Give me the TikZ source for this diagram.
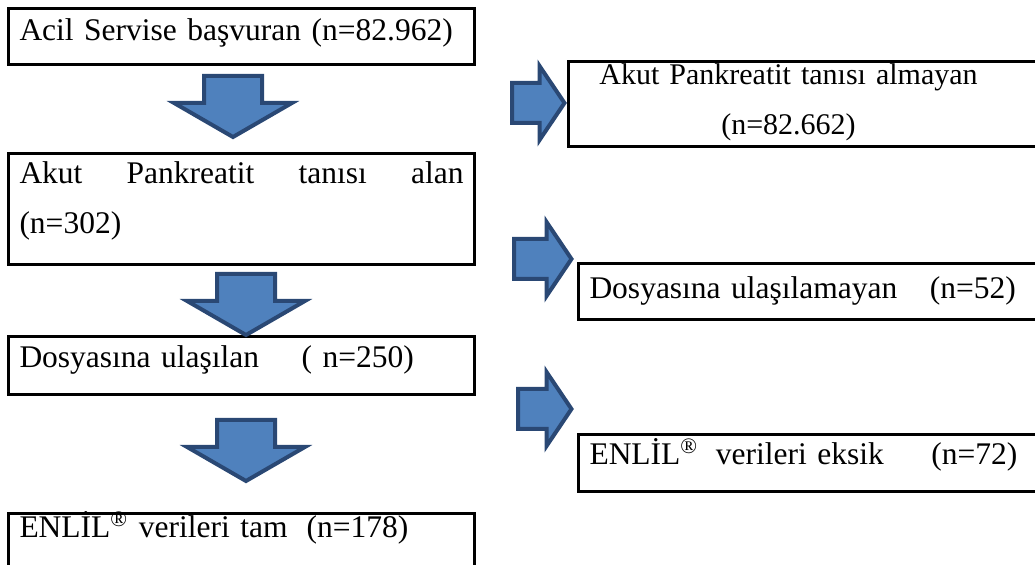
\documentclass[tikz,border=0pt]{standalone}
\usepackage{fontspec}
\setmainfont{Liberation Serif}
\usepackage{xcolor}
\usepackage{tikz}
\usetikzlibrary{shapes.arrows}
\definecolor{arrowfill}{HTML}{4F81BD}
\definecolor{arrowline}{HTML}{2A4874}

\begin{document}
\begin{tikzpicture}[
    x=0.4pt, y=-0.4pt,
    box/.style={draw, line width=1.2pt, inner sep=0pt, inner xsep=4.4pt, anchor=north west, align=left, font=\fontsize{12.6}{20}\selectfont},
    downarrow/.style={single arrow, draw=arrowline, fill=arrowfill, line width=1.6pt, rotate=-90, anchor=tail, inner sep=0pt, inner ysep=10.8pt, minimum height=24.4pt, single arrow head extend=12pt, single arrow tip angle=120},
    rightarrow/.style={single arrow, draw=arrowline, fill=arrowfill, line width=1.6pt, anchor=tail, inner sep=0pt, inner ysep=7.2pt, minimum height=21pt, single arrow head extend=6.8pt, single arrow tip angle=112}
]
    \useasboundingbox (0,0) rectangle (1035,565);

    \node[box, text width=177.6pt, text height=12.8pt, text depth=9.6pt] (er) at (7,7) {Acil Servise başvuran (n=82.962)};
    \node[box, text width=177.6pt, text height=12pt, text depth=32.4pt, align=justify] (ap) at (7,152) {Akut Pankreatit tanısı alan\linebreak (n=302)};
    \node[box, text width=177.6pt, text height=12.4pt, text depth=10.8pt] (file) at (7,335) {Dosyasına ulaşılan\hspace{17pt}( n=250)};
    \node[box, text width=177.6pt, text height=9.6pt, text depth=17.6pt] (full) at (7,512) {ENLİL\textsuperscript{®} verileri tam\hspace{7.6pt}(n=178)};

    \node[box, text width=182.4pt, text height=9.2pt, text depth=24.8pt, font=\fontsize{12}{20}\selectfont] (noap) at (567,60) {\parbox[t]{167.2pt}{\centering Akut Pankreatit tanısı almayan\\(n=82.662)}};
    \node[box, text width=178.8pt, text height=14pt, text depth=8.4pt] (nofile) at (577,262) {Dosyasına ulaşılamayan\hspace{13pt}(n=52)};
    \node[box, text width=178.8pt, text height=12pt, text depth=10.8pt] (part) at (577,433) {ENLİL\textsuperscript{®}\hspace{7pt}verileri eksik\hspace{19pt}(n=72)};

    \node[downarrow] (d1) at (233,74) {};
    \node[downarrow] (d2) at (246,272) {};
    \node[downarrow] (d3) at (246,418) {};

    \node[rightarrow] (r1) at (510,103) {};
    \node[rightarrow, minimum height=23pt] (r2) at (512,259) {};
    \node[rightarrow, minimum height=21.4pt] (r3) at (516,409) {};
\end{tikzpicture}
\end{document}
